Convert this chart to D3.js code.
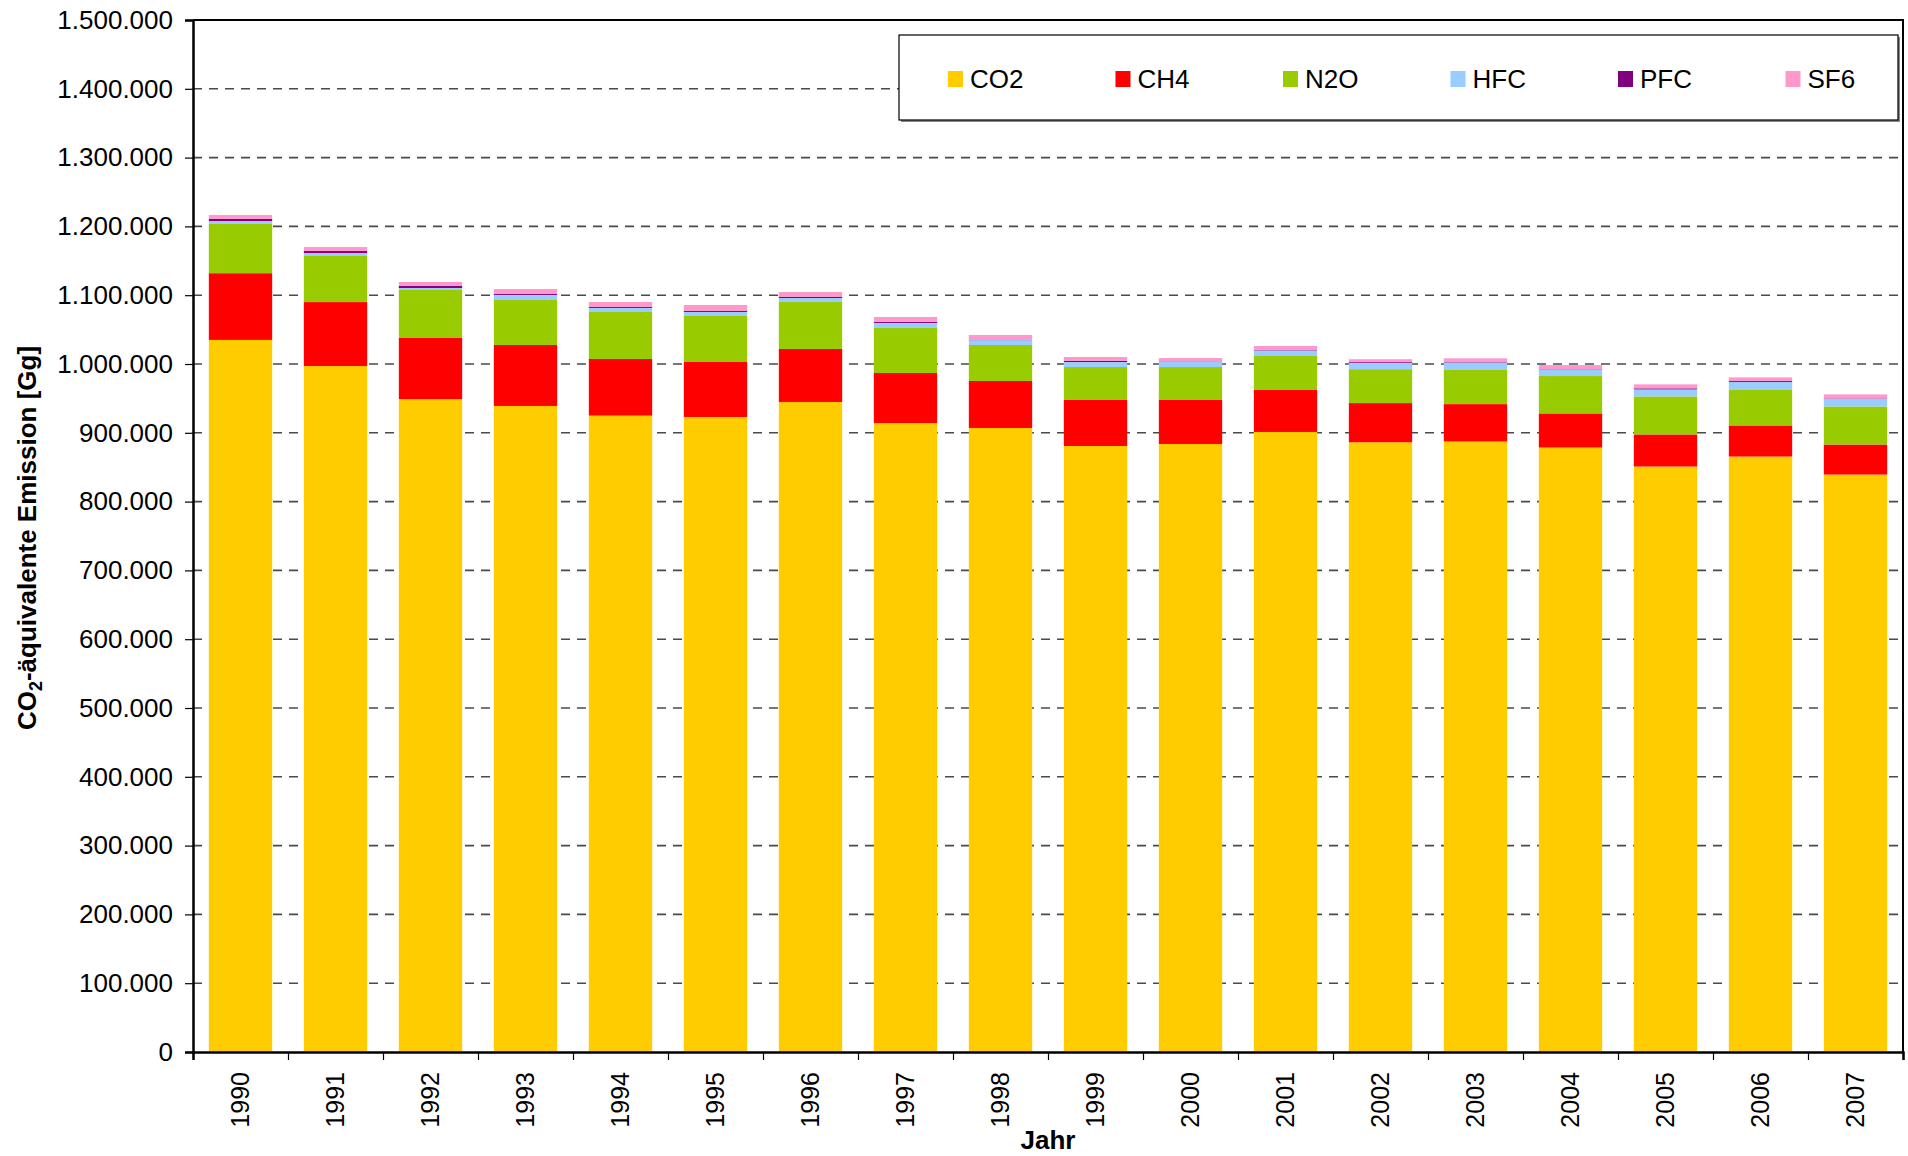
<!DOCTYPE html>
<html>
<head>
<meta charset="utf-8">
<script src="https://cdn.jsdelivr.net/npm/d3@7"></script>
<style>
  body { margin: 0; background: #fff; }
  text { font-family: "Liberation Sans", Arial, sans-serif; }
</style>
</head>
<body>
<svg id="viz" width="1908" height="1156"></svg>
<script>
// years on the x axis
let years = ["1990","1991","1992","1993","1994","1995","1996","1997","1998",
             "1999","2000","2001","2002","2003","2004","2005","2006","2007"];

// series values in Gg CO2-equivalent
let co2 = [1035000, 997000, 949000, 939000, 925000, 923000, 944800, 914200, 907000,
           880800, 883700, 901200, 886300, 887400, 878600, 851000, 865500, 839300];
let ch4 = [97000, 93000, 88800, 88600, 82300, 79900, 77000, 72700, 68300,
           66900, 64000, 61000, 56900, 54300, 49600, 46600, 45200, 43700];
let n2o = [71500, 67000, 69800, 65400, 68300, 66900, 68300, 65400, 52300,
           47900, 47900, 49400, 49300, 50500, 54300, 55300, 52400, 55300];
let hfc = [4300, 4300, 2900, 7300, 5800, 5800, 5800, 7300, 7100,
           7300, 7300, 8100, 9000, 10100, 9100, 10200, 10700, 11100];
let pfc = [3000, 2900, 2900, 1400, 1400, 1400, 1500, 1400, 600,
           1500, 600, 600, 1200, 600, 600, 1500, 1400, 600];
let sf6 = [5800, 5800, 5800, 7300, 7300, 8800, 7300, 7300, 6900,
           5800, 5200, 5900, 4300, 5400, 6300, 5800, 5400, 5800];

let seriesNames = ["CO2", "CH4", "N2O", "HFC", "PFC", "SF6"];
let seriesColors = ["#FFCC00", "#FF0000", "#99CC00", "#99CCFF", "#800080", "#FF99CC"];
let yTicks = d3.range(0, 1500001, 100000);

// build table for the stack
let table = years.map((yr, i) => ({
  year: yr, CO2: co2[i], CH4: ch4[i], N2O: n2o[i], HFC: hfc[i], PFC: pfc[i], SF6: sf6[i]
}));

let plotLeft = 193, plotRight = 1903, plotTop = 20, plotBottom = 1052;
let svg = d3.select("#viz");

let de = d3.formatLocale({ decimal: ",", thousands: ".", grouping: [3], currency: ["", " €"] });
let fmt = de.format(",.0f");

let xScale = d3.scaleBand().domain(years).range([plotLeft, plotRight])
  .paddingInner(1 / 3).paddingOuter(1 / 6);
let xEdges = d3.scaleLinear().domain([0, years.length]).range([plotLeft, plotRight]);
let yScale = d3.scaleLinear().domain([0, 1500000]).range([plotBottom, plotTop]);

// dashed gridlines
svg.append("g")
  .selectAll("line")
  .data(yTicks.filter(t => t > 0 && t < 1500000))
  .join("line")
  .attr("x1", plotLeft).attr("x2", plotRight)
  .attr("y1", d => yScale(d)).attr("y2", d => yScale(d))
  .attr("stroke", "#4a4a4a")
  .attr("stroke-width", 1.6)
  .attr("stroke-dasharray", "9,7");

// stacked bars
let stack = d3.stack().keys(seriesNames)(table);
svg.append("g")
  .selectAll("g")
  .data(stack)
  .join("g")
  .attr("fill", (d, i) => seriesColors[i])
  .selectAll("rect")
  .data(d => d)
  .join("rect")
  .attr("x", d => xScale(d.data.year))
  .attr("width", xScale.bandwidth())
  .attr("y", d => yScale(d[1]))
  .attr("height", d => yScale(d[0]) - yScale(d[1]));

// plot frame (top and right)
svg.append("path")
  .attr("d", `M${plotLeft},${plotTop}H${plotRight}V${plotBottom}`)
  .attr("fill", "none")
  .attr("stroke", "#000")
  .attr("stroke-width", 2);

// y axis
let yAxis = svg.append("g")
  .attr("transform", `translate(${plotLeft},0)`)
  .call(d3.axisLeft(yScale).tickValues(yTicks).tickFormat(fmt).tickSize(8).tickPadding(12));
yAxis.select(".domain").attr("stroke", "#000").attr("stroke-width", 2.5);
yAxis.selectAll(".tick line").attr("stroke", "#000").attr("stroke-width", 1.2);
yAxis.selectAll("text").attr("font-size", 26).attr("fill", "#000")
  .style("font-family", "'Liberation Sans', Arial, sans-serif");

// x axis: ticks at category boundaries
let xAxis = svg.append("g")
  .attr("transform", `translate(0,${plotBottom})`)
  .call(d3.axisBottom(xEdges).tickValues(d3.range(0, years.length + 1)).tickFormat("").tickSize(8));
xAxis.select(".domain").attr("stroke", "#000").attr("stroke-width", 2.5);
xAxis.selectAll(".tick line").attr("stroke", "#000").attr("stroke-width", 1.2);

// year labels, rotated
svg.append("g")
  .selectAll("text")
  .data(years)
  .join("text")
  .attr("transform", d => `translate(${xScale(d) + xScale.bandwidth() / 2},1072) rotate(-90)`)
  .attr("text-anchor", "end")
  .attr("dy", "0.35em")
  .attr("font-size", 25)
  .text(d => d);

// axis titles
svg.append("text")
  .attr("x", (plotLeft + plotRight) / 2)
  .attr("y", 1149)
  .attr("text-anchor", "middle")
  .attr("font-size", 26)
  .attr("font-weight", "bold")
  .text("Jahr");

let yt = svg.append("text")
  .attr("transform", `translate(36,${(plotTop + plotBottom) / 2 + 2}) rotate(-90)`)
  .attr("text-anchor", "middle")
  .attr("font-size", 26)
  .attr("font-weight", "bold");
yt.append("tspan").text("CO");
yt.append("tspan").attr("font-size", 18).attr("dy", 6).text("2");
yt.append("tspan").attr("dy", -6).text("-äquivalente Emission [Gg]");

// legend
let lg = svg.append("g");
lg.append("rect")
  .attr("x", 901).attr("y", 37).attr("width", 999).attr("height", 85)
  .attr("fill", "#888");
lg.append("rect")
  .attr("x", 899).attr("y", 35).attr("width", 999).attr("height", 85)
  .attr("fill", "#fff").attr("stroke", "#000").attr("stroke-width", 1.2);

let items = lg.selectAll("g.item")
  .data(seriesNames)
  .join("g")
  .attr("class", "item")
  .attr("transform", (d, i) => `translate(${948 + i * 167.5},79)`);
items.append("rect")
  .attr("x", 0).attr("y", -8).attr("width", 15).attr("height", 16)
  .attr("fill", (d, i) => seriesColors[i]);
items.append("text")
  .attr("x", 22).attr("dy", "0.35em")
  .attr("font-size", 26)
  .text(d => d);
</script>
</body>
</html>
